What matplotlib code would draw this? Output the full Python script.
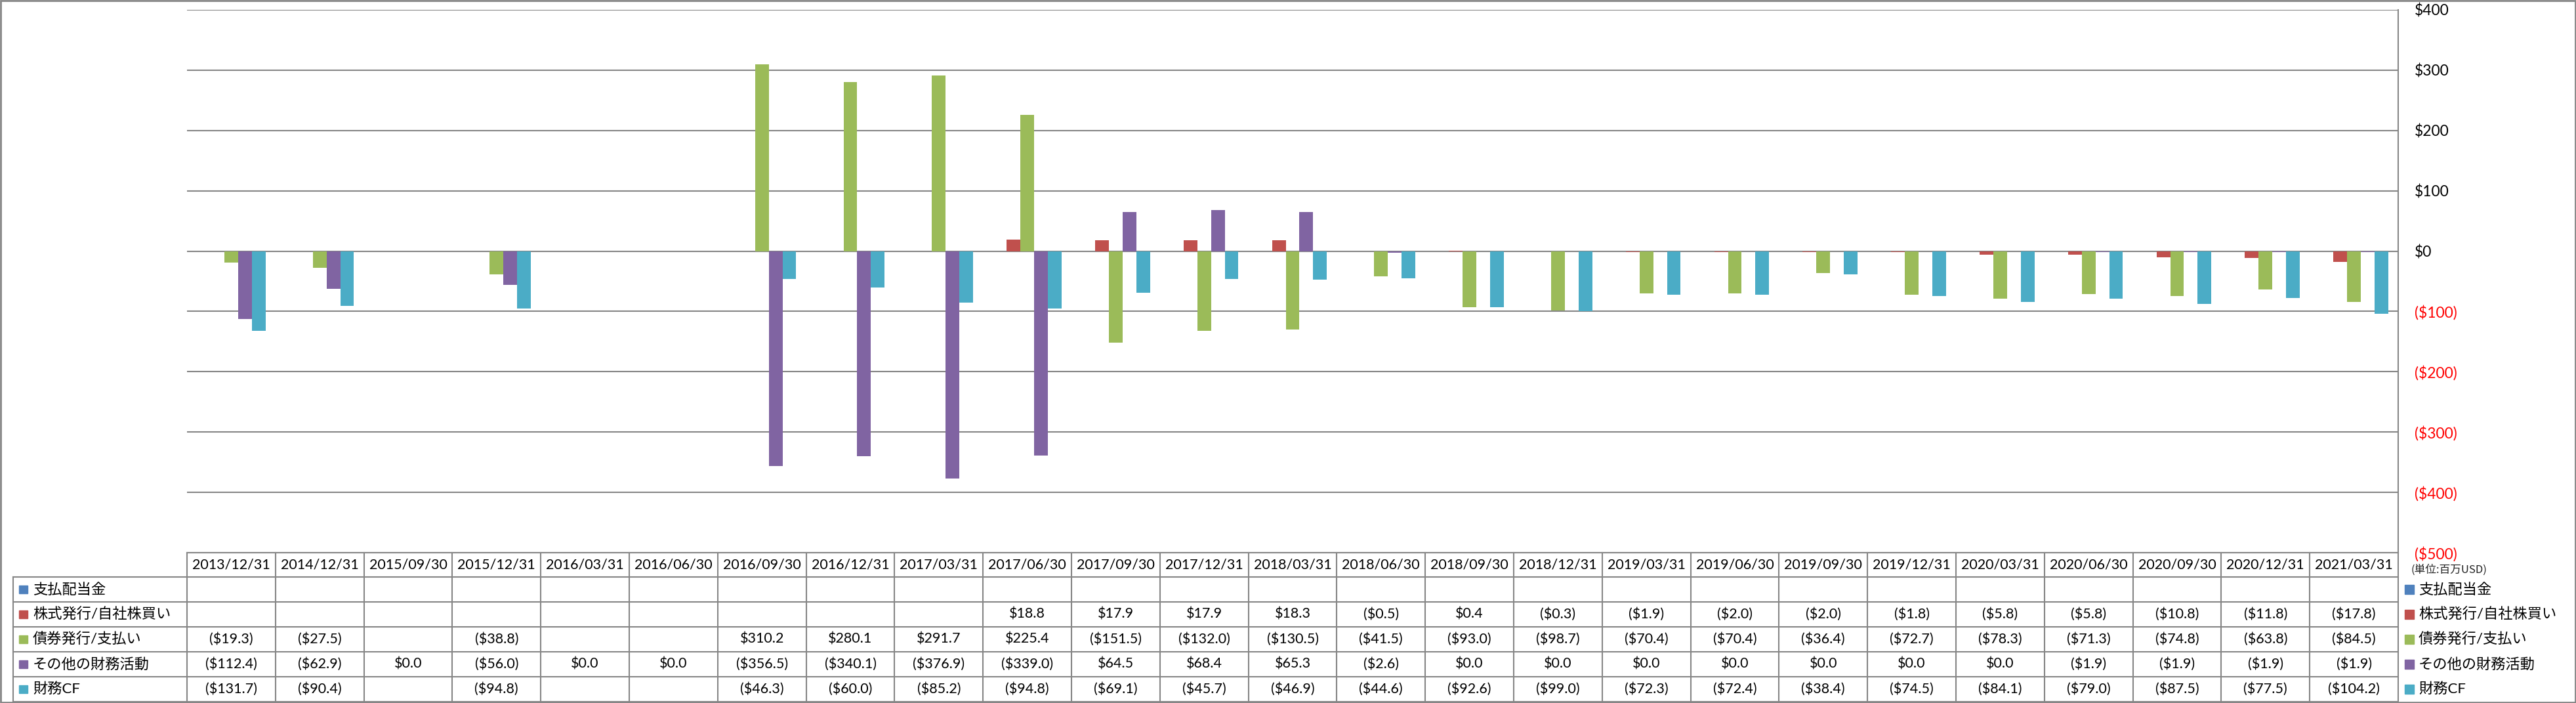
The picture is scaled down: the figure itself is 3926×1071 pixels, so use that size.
import matplotlib
matplotlib.use("Agg")
import matplotlib.pyplot as plt
import matplotlib.patches as patches
import numpy as np

plt.rcParams['font.family'] = ['Lato', 'Noto Sans CJK JP', 'DejaVu Sans']

# --- data (百万USD) ---
dates = ['2013/12/31', '2014/12/31', '2015/09/30', '2015/12/31', '2016/03/31',
         '2016/06/30', '2016/09/30', '2016/12/31', '2017/03/31', '2017/06/30',
         '2017/09/30', '2017/12/31', '2018/03/31', '2018/06/30', '2018/09/30',
         '2018/12/31', '2019/03/31', '2019/06/30', '2019/09/30', '2019/12/31',
         '2020/03/31', '2020/06/30', '2020/09/30', '2020/12/31', '2021/03/31']

series_names = ['支払配当金', '株式発行/自社株買い', '債券発行/支払い', 'その他の財務活動', '財務CF']
series_colors = ['#4F81BD', '#C0504D', '#9BBB59', '#8064A2', '#4BACC6']

dividends = [None] * 25
stock_issue = [None, None, None, None, None, None, None, None, None,
               18.8, 17.9, 17.9, 18.3, -0.5, 0.4, -0.3, -1.9, -2.0, -2.0, -1.8,
               -5.8, -5.8, -10.8, -11.8, -17.8]
debt_issue = [-19.3, -27.5, None, -38.8, None, None, 310.2, 280.1, 291.7, 225.4,
              -151.5, -132.0, -130.5, -41.5, -93.0, -98.7, -70.4, -70.4, -36.4, -72.7,
              -78.3, -71.3, -74.8, -63.8, -84.5]
other_fin = [-112.4, -62.9, 0.0, -56.0, 0.0, 0.0, -356.5, -340.1, -376.9, -339.0,
             64.5, 68.4, 65.3, -2.6, 0.0, 0.0, 0.0, 0.0, 0.0, 0.0,
             0.0, -1.9, -1.9, -1.9, -1.9]
fin_cf = [-131.7, -90.4, None, -94.8, None, None, -46.3, -60.0, -85.2, -94.8,
          -69.1, -45.7, -46.9, -44.6, -92.6, -99.0, -72.3, -72.4, -38.4, -74.5,
          -84.1, -79.0, -87.5, -77.5, -104.2]

all_series = [dividends, stock_issue, debt_issue, other_fin, fin_cf]

# --- layout in pixels ---
W, H = 3926, 1071
DPI = 100
PLOT_L, PLOT_R, PLOT_T, PLOT_B = 285, 3655, 15, 842
TABLE_L = 20
ROW_H = 38
GRID = '#868686'


def fmt(v):
  if v is None:
    return ''
  if v < 0:
    return f'(${-v:.1f})'
  return f'${v:.1f}'


def money_tick(v, pos=None):
  if v < 0:
    return f'(${-v:.0f})'
  return f'${v:.0f}'


fig = plt.figure(figsize=(W / DPI, H / DPI), dpi=DPI)
ax = fig.add_axes([PLOT_L / W, 1 - PLOT_B / H, (PLOT_R - PLOT_L) / W, (PLOT_B - PLOT_T) / H])

n = len(dates)
x = np.arange(n)
bar_w = 0.155
for k, (vals, color) in enumerate(zip(all_series, series_colors)):
  heights = np.array([np.nan if v is None else v for v in vals], dtype=float)
  ax.bar(x + (k - 2) * bar_w, heights, width=bar_w, color=color, zorder=3)

ax.set_xlim(-0.5, n - 0.5)
ax.set_ylim(-500, 400)
ax.set_yticks(np.arange(-500, 401, 100))
ax.yaxis.set_major_formatter(plt.FuncFormatter(money_tick))
ax.yaxis.tick_right()
ax.tick_params(axis='y', length=0, pad=18, labelsize=16.5)
for lbl, v in zip(ax.get_yticklabels(), ax.get_yticks()):
  lbl.set_color('red' if v < 0 else 'black')
  lbl.set_horizontalalignment('left')
ax.set_xticks([])
ax.grid(axis='y', color=GRID, linewidth=1.5, zorder=0)
for side in ['left', 'top', 'bottom']:
  ax.spines[side].set_visible(False)
ax.spines['right'].set_color(GRID)
ax.spines['right'].set_linewidth(1.5)

# overlay in pixel coordinates for the data table and legend
ov = fig.add_axes([0, 0, 1, 1], zorder=5)
ov.set_xlim(0, W)
ov.set_ylim(H, 0)
ov.axis('off')
ov.patch.set_alpha(0)

col_w = (PLOT_R - PLOT_L) / n
head_top = PLOT_B
head_bot = head_top + 37
lw = 1.5
cell_fs = 15.5

# header row
ov.plot([PLOT_L, PLOT_R], [head_top, head_top], color=GRID, lw=lw)
for i, d in enumerate(dates):
  cx = PLOT_L + (i + 0.5) * col_w
  ov.text(cx, (head_top + head_bot) / 2, d, ha='center', va='center', fontsize=cell_fs)
for i in range(n + 1):
  xx = PLOT_L + i * col_w
  ov.plot([xx, xx], [head_top, H - 2], color=GRID, lw=lw)

# data rows
for r, (name, color, vals) in enumerate(zip(series_names, series_colors, all_series)):
  top = head_bot + r * ROW_H
  cy = top + ROW_H / 2
  ov.plot([TABLE_L, PLOT_R], [top, top], color=GRID, lw=lw)
  ov.add_patch(patches.Rectangle((TABLE_L + 9, cy - 6), 13, 12, color=color))
  ov.text(TABLE_L + 30, cy, name, ha='left', va='center', fontsize=16)
  for i, v in enumerate(vals):
    ov.text(PLOT_L + (i + 0.5) * col_w, cy, fmt(v), ha='center', va='center', fontsize=cell_fs)
ov.plot([TABLE_L, PLOT_R], [H - 2, H - 2], color=GRID, lw=lw)
ov.plot([TABLE_L, TABLE_L], [head_bot, H - 2], color=GRID, lw=lw)

# unit note and legend on the right
ov.text(3675, 868, '(単位:百万USD)', ha='left', va='center', fontsize=12,
        family=['Noto Sans CJK JP'], color='#222222')
for r, (name, color) in enumerate(zip(series_names, series_colors)):
  cy = head_bot + r * ROW_H + ROW_H / 2
  ov.add_patch(patches.Rectangle((3665, cy - 7), 14, 14, color=color))
  ov.text(3686, cy, name, ha='left', va='center', fontsize=16)

# outer chart border
ov.add_patch(patches.Rectangle((1, 1), W - 2, H - 2, fill=False, edgecolor=GRID, lw=2))

fig.savefig('out.png', dpi=DPI)
